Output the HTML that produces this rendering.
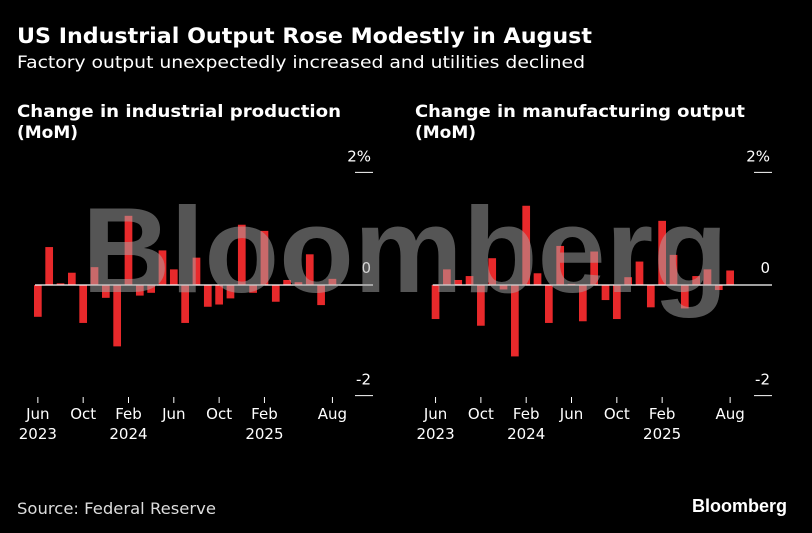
<!DOCTYPE html>
<html><head><meta charset="utf-8"><style>
body{margin:0;background:#000;}
svg{display:block;font-family:"DejaVu Sans","Liberation Sans",sans-serif;}
</style></head><body>
<svg id="c" width="812" height="533" viewBox="0 0 812 533">
<rect width="812" height="533" fill="#000"/>
<text x="17" y="43" fill="#fff" font-size="21" font-weight="bold" textLength="575" lengthAdjust="spacingAndGlyphs">US Industrial Output Rose Modestly in August</text>
<text x="17" y="68" fill="#fff" font-size="17" textLength="568" lengthAdjust="spacingAndGlyphs">Factory output unexpectedly increased and utilities declined</text>
<text x="17" y="117" fill="#fff" font-size="17" font-weight="bold" textLength="324" lengthAdjust="spacingAndGlyphs">Change in industrial production</text>
<text x="17" y="138" fill="#fff" font-size="17" font-weight="bold">(MoM)</text>
<text x="415" y="117" fill="#fff" font-size="17" font-weight="bold" textLength="330" lengthAdjust="spacingAndGlyphs">Change in manufacturing output</text>
<text x="415" y="138" fill="#fff" font-size="17" font-weight="bold">(MoM)</text>
<g id="left"></g>
<g id="right"></g>
<text x="82" y="292" fill="rgba(170,170,170,0.5)" font-size="122" font-weight="bold" font-family="Liberation Sans, sans-serif" textLength="646" lengthAdjust="spacingAndGlyphs">Bloomberg</text>
<text x="17" y="514" fill="#ddd" font-size="16" textLength="199" lengthAdjust="spacingAndGlyphs">Source: Federal Reserve</text>
<text x="787" y="512" fill="#fff" font-size="18" font-weight="bold" text-anchor="end" font-family="Liberation Sans, sans-serif">Bloomberg</text>
</svg>
<script>
const months = ["Jun 2023","Jul 2023","Aug 2023","Sep 2023","Oct 2023","Nov 2023","Dec 2023","Jan 2024","Feb 2024","Mar 2024","Apr 2024","May 2024","Jun 2024","Jul 2024","Aug 2024","Sep 2024","Oct 2024","Nov 2024","Dec 2024","Jan 2025","Feb 2025","Mar 2025","Apr 2025","May 2025","Jun 2025","Jul 2025","Aug 2025"];
const industrialValues = [-0.57,0.68,0.03,0.22,-0.68,0.32,-0.23,-1.1,1.24,-0.19,-0.14,0.62,0.28,-0.68,0.49,-0.39,-0.35,-0.24,1.08,-0.14,0.97,-0.3,0.09,0.05,0.55,-0.36,0.11];
const manufacturingValues = [-0.61,0.28,0.09,0.16,-0.73,0.48,-0.08,-1.28,1.42,0.21,-0.68,0.7,0.02,-0.65,0.6,-0.27,-0.61,0.14,0.42,-0.4,1.15,0.54,-0.42,0.16,0.28,-0.09,0.26];
const yTicks = [2,0,-2];
const yTickLabels = ["2%","0","-2"];
const xTickMonths = [0,4,8,12,16,20,26];
const xTickLabels = [["Jun","2023"],["Oct",""],["Feb","2024"],["Jun",""],["Oct",""],["Feb","2025"],["Aug",""]];

const NS="http://www.w3.org/2000/svg";
function mk(tag, attrs, parent){const e=document.createElementNS(NS,tag);for(const k in attrs)e.setAttribute(k,attrs[k]);parent.appendChild(e);return e;}

function drawPanel(g, values, x0, lineEnd, name){
  const step=11.33, bw=7.7;
  const y=v=>285-v*55.8;
  const x=i=>x0+i*step;
  values.forEach((v,i)=>{
    const r=mk("rect",{x:x(i),y:Math.min(y(v),y(0)),width:bw,height:Math.max(Math.abs(y(v)-y(0)),0.5),fill:"#e8292b"},g);
    
    
  });
  const zl=mk("line",{x1:x0+1,x2:lineEnd,y1:y(0),y2:y(0),stroke:"#fff","stroke-width":1.3},g);
  
  
  yTicks.forEach((t,k)=>{
    const l=mk("line",{x1:lineEnd-18,x2:lineEnd,y1:y(t)+(t===0?0:-1),y2:y(t)+(t===0?0:-1),stroke:"#fff","stroke-width":1},g);
    
    
    const tx=mk("text",{x:lineEnd-2,y:y(t)-12,fill:"#fff","font-size":15,"text-anchor":"end"},g);
    tx.textContent=yTickLabels[k];
    
    
  });
  xTickMonths.forEach((m,k)=>{
    const cx=x(m)+bw/2;
    const tl=mk("line",{x1:cx,x2:cx,y1:397,y2:403,stroke:"#fff","stroke-width":1},g);
    
    
    xTickLabels[k].forEach((s,j)=>{
      if(!s)return;
      const tx=mk("text",{x:cx,y:419+j*20,fill:"#fff","font-size":15,"text-anchor":"middle"},g);
      tx.textContent=s;
      
      
    });
  });
}
drawPanel(document.getElementById("left"), industrialValues, 34, 373, "industrial");
drawPanel(document.getElementById("right"), manufacturingValues, 431.7, 772, "manufacturing");
</script>
</body></html>
